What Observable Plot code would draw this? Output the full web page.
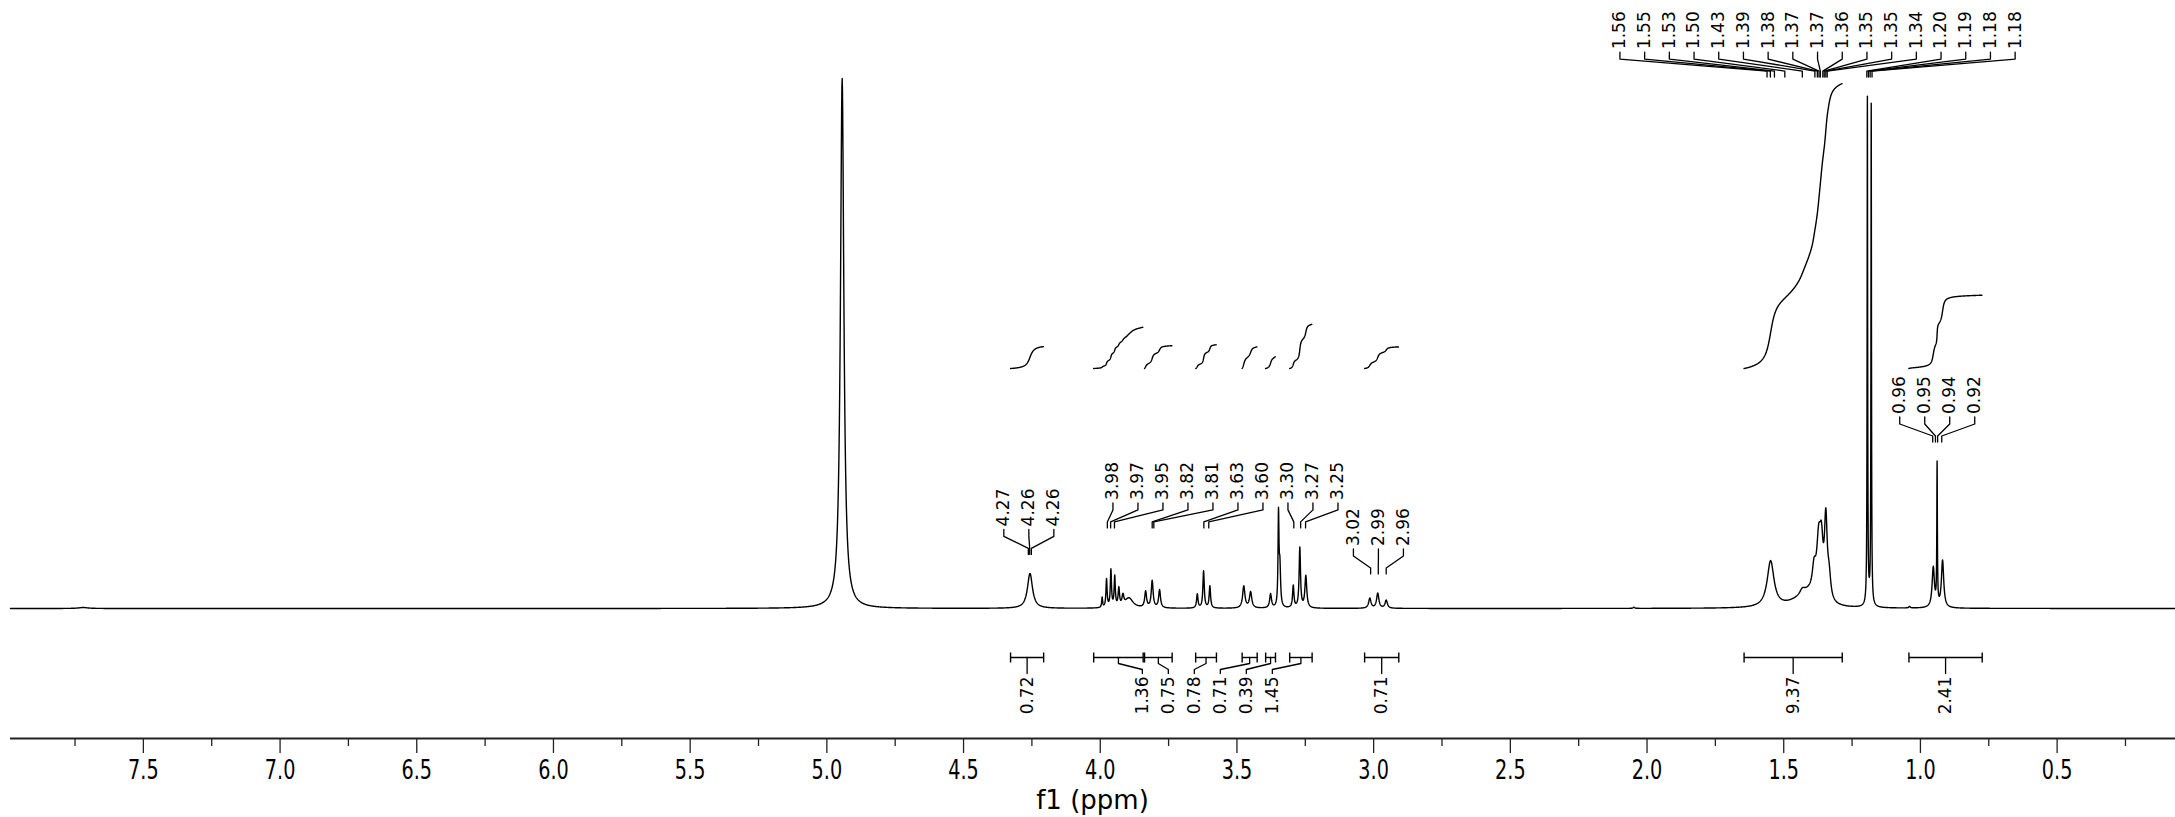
<!DOCTYPE html>
<html><head><meta charset="utf-8">
<script src="https://cdn.jsdelivr.net/npm/d3@7"></script>
<script src="https://cdn.jsdelivr.net/npm/@observablehq/plot@0.6"></script>
<style>
html,body{margin:0;padding:0;background:#fff;}
#chart{width:2175px;height:817px;overflow:hidden;}
</style></head><body><div id="chart"></div>
<script>
// ---------------- data ----------------
// spectrum lines: position (ppm), height (intensity units), half-width (ppm)
const peakPpm = [7.72, 4.944, 4.257, 3.993, 3.977, 3.961, 3.947, 3.932, 3.917, 3.895,
  3.834, 3.810, 3.783, 3.645, 3.622, 3.599, 3.475, 3.450, 3.377, 3.348,
  3.343, 3.294, 3.270, 3.248, 3.014, 2.985, 2.954, 2.048, 1.548, 1.45,
  1.432, 1.41, 1.389, 1.372, 1.362, 1.346, 1.334, 1.194, 1.180, 1.187,
  1.04, 0.953, 0.939, 0.919];
const peakHeight = [1, 530, 35, 10, 28, 37, 30, 18, 10, 10,
  16, 27, 18, 14, 37, 22, 22, 16, 14, 90,
  40, 22, 60, 32, 10, 15, 8, 1.2, 46, 5,
  6, 10, 25, 55, 45, 78, 22, 505, 498, 6,
  1.5, 40, 140, 47];
const peakWidth = [0.02, 0.0075, 0.011, 0.002, 0.0025, 0.0025, 0.0025, 0.003, 0.004, 0.018,
  0.004, 0.004, 0.004, 0.003, 0.003, 0.003, 0.005, 0.005, 0.004, 0.002,
  0.003, 0.003, 0.003, 0.004, 0.005, 0.005, 0.005, 0.003, 0.015, 0.05,
  0.012, 0.03, 0.008, 0.009, 0.007, 0.006, 0.007, 0.0011, 0.0011, 0.008,
  0.003, 0.005, 0.0012, 0.005];

// integrals
const integralFrom  = [4.328, 4.024, 3.838, 3.651, 3.481, 3.395, 3.307, 3.033, 1.645, 1.042];
const integralTo    = [4.207, 3.843, 3.737, 3.575, 3.426, 3.359, 3.225, 2.908, 1.286, 0.774];
const integralValue = [0.72, 1.36, 0.75, 0.78, 0.71, 0.39, 1.45, 0.71, 9.37, 2.41];
const integralText  = ["0.72", "1.36", "0.75", "0.78", "0.71", "0.39", "1.45", "0.71", "9.37", "2.41"];

// peak labels (groups)
const g1Text = ["4.27", "4.26", "4.26"];
const g1Ppm  = [4.263, 4.258, 4.252];
const g2Text = ["3.98", "3.97", "3.95", "3.82", "3.81", "3.63", "3.60", "3.30", "3.27", "3.25"];
const g2Ppm  = [3.974, 3.962, 3.948, 3.810, 3.804, 3.621, 3.603, 3.292, 3.267, 3.249];
const g3Text = ["3.02", "2.99", "2.96"];
const g3Ppm  = [3.011, 2.983, 2.954];
const g4Text = ["1.56", "1.55", "1.53", "1.50", "1.43", "1.39", "1.38", "1.37", "1.37", "1.36",
  "1.35", "1.35", "1.34", "1.20", "1.19", "1.18", "1.18"];
const g4Ppm  = [1.561, 1.549, 1.534, 1.496, 1.432, 1.386, 1.377, 1.371, 1.366, 1.357,
  1.352, 1.346, 1.341, 1.196, 1.190, 1.184, 1.177];
const g5Text = ["0.96", "0.95", "0.94", "0.92"];
const g5Ppm  = [0.955, 0.945, 0.937, 0.922];

// axis ticks
const tickValues = [7.5, 7.0, 6.5, 6.0, 5.5, 5.0, 4.5, 4.0, 3.5, 3.0, 2.5, 2.0, 1.5, 1.0, 0.5];
const tickLabels = ["7.5", "7.0", "6.5", "6.0", "5.5", "5.0", "4.5", "4.0", "3.5", "3.0", "2.5", "2.0", "1.5", "1.0", "0.5"];
const minorTickValues = [7.75, 7.25, 6.75, 6.25, 5.75, 5.25, 4.75, 4.25, 3.75, 3.25, 2.75, 2.25, 1.75, 1.25, 0.75, 0.25];
const axisTitle = "f1 (ppm)";

// ---------------- layout ----------------
const W = 2175, H = 817;
const xDomain = [7.986, 0.067], xRange = [10, 2175];
const yDomain = [0, 530], yRange = [608, 78];
const axisY = 738;
const xs = d3.scaleLinear().domain(xDomain).range(xRange);
const ys = d3.scaleLinear().domain(yDomain).range(yRange);
const LABEL_FONT = "DejaVu Sans";
const AXIS_FONT = "DejaVu Sans";
const AXIS_SQUEEZE = 0.74;   // horizontal condensation of the axis lettering

// ---------------- spectrum ----------------
function intensity(p) {
  let s = 0;
  for (let i = 0; i < peakPpm.length; i++) {
    const u = (p - peakPpm[i]) / peakWidth[i];
    s += peakHeight[i] / (1 + u * u);
  }
  return s;
}
const samplePpm = [];
const step = 0.001;
for (let p = xDomain[0]; p >= xDomain[1]; p -= step) samplePpm.push(p);
peakPpm.forEach((c, i) => {
  const g = peakWidth[i];
  [0, 0.25, 0.5, 1, 1.5, 2, 3, 5].forEach(k => { samplePpm.push(c + k * g); samplePpm.push(c - k * g); });
});
samplePpm.sort((a, b) => b - a);
const spectrum = samplePpm.map(p => ({x: p, y: intensity(p)}));

// ---------------- integral curves ----------------
const INT_BASE = 608 - 368;   // intensity units of the curve baseline
const INT_SCALE = 30.4;       // intensity units per integral unit
const integralCurves = [];
integralFrom.forEach((a, r) => {
  const b = integralTo[r];
  const pts = spectrum.filter(d => d.x <= a && d.x >= b);
  let cum = 0; const cs = [0];
  for (let i = 1; i < pts.length; i++) {
    cum += (pts[i - 1].x - pts[i].x) * (pts[i - 1].y + pts[i].y) / 2;
    cs.push(cum);
  }
  pts.forEach((d, i) => integralCurves.push({id: r, x: d.x, y: INT_BASE + (cs[i] / cum) * integralValue[r] * INT_SCALE}));
});

// ---------------- integral bars + labels ----------------
const BAR_Y = 657;
const barSegs = [];
const intLabels = [];
const intLeaders = [];
const intClusters = [{members: [1, 2, 3, 4, 5, 6], spacing: 26, shift: -10}];
const intLabelPx = integralFrom.map((a, r) => (xs(a) + xs(integralTo[r])) / 2);
const intCenterPx = intLabelPx.slice();
intClusters.forEach(c => {
  const mean = d3.mean(c.members, m => intCenterPx[m]) + c.shift;
  c.members.forEach((m, j) => { intLabelPx[m] = mean + (j - (c.members.length - 1) / 2) * c.spacing; });
});
integralFrom.forEach((a, r) => {
  const b = integralTo[r];
  const py = v => ys.invert(v);
  barSegs.push({x1: a, x2: b, y1: py(BAR_Y), y2: py(BAR_Y)});
  barSegs.push({x1: a, x2: a, y1: py(BAR_Y - 5), y2: py(BAR_Y + 5)});
  barSegs.push({x1: b, x2: b, y1: py(BAR_Y - 5), y2: py(BAR_Y + 5)});
  const cx = xs.invert(intCenterPx[r]), lx = xs.invert(intLabelPx[r]);
  [[cx, BAR_Y], [cx, BAR_Y + 6], [lx, BAR_Y + 12], [lx, BAR_Y + 16]].forEach(([x, y]) => intLeaders.push({id: r, x, y: py(y)}));
  intLabels.push({x: lx, y: py(BAR_Y + 19), text: integralText[r]});
});

// ---------------- peak labels ----------------
const groups = [
  {text: g1Text, ppm: g1Ppm, spacing: 25, shift: -1},
  {text: g2Text, ppm: g2Ppm, spacing: 25, shift: 19},
  {text: g3Text, ppm: g3Ppm, spacing: 25, shift: 0},
  {text: g4Text, ppm: g4Ppm, spacing: 24.7, shift: -2},
  {text: g5Text, ppm: g5Ppm, spacing: 25, shift: 0}
];
const peakLabels = [], peakLeaders = [];
groups.forEach((g, gi) => {
  const pxs = g.ppm.map(p => xs(p));
  const center = (d3.min(pxs) + d3.max(pxs)) / 2 + g.shift;
  let top = 0;
  g.ppm.forEach(p => { spectrum.forEach(d => { if (Math.abs(d.x - p) <= 0.004 && d.y > top) top = d.y; }); });
  const yb = ys(top) - 19;
  g.ppm.forEach((p, i) => {
    const lpx = center + (i - (g.ppm.length - 1) / 2) * g.spacing;
    const lx = xs.invert(lpx);
    const id = gi * 100 + i;
    [[p, yb], [p, yb - 6], [lx, yb - 18], [lx, yb - 25]].forEach(([x, y]) => peakLeaders.push({id, x, y: ys.invert(y)}));
    peakLabels.push({x: lx, y: ys.invert(yb - 28), text: g.text[i]});
  });
});

// ---------------- plot ----------------
const chart = Plot.plot({
  width: W, height: H,
  marginLeft: 10, marginRight: 0, marginTop: 0, marginBottom: H - axisY,
  x: {domain: xDomain, range: xRange},
  y: {domain: yDomain, range: yRange, axis: null},
  style: {background: "white", color: "black", fontFamily: LABEL_FONT, overflow: "visible"},
  marks: [
    Plot.ruleY([ys.invert(axisY)], {stroke: "#222", strokeWidth: 2}),
    Plot.axisX(tickValues, {anchor: "bottom", tickSize: 15, tickPadding: 7, stroke: "#222", strokeWidth: 1.3,
      tickFormat: d => tickLabels[tickValues.indexOf(d)], fontSize: 26, fontFamily: AXIS_FONT, label: null,
      ariaLabel: "x-axis major"}),
    Plot.axisX(minorTickValues, {anchor: "bottom", tickSize: 8, stroke: "#222", strokeWidth: 1.3, tickFormat: () => "", label: null}),
    Plot.text([axisTitle], {x: xs.invert(1092), y: ys.invert(800), text: d => d, fontSize: 26, fontFamily: AXIS_FONT, fill: "black", ariaLabel: "axis-title"}),
    Plot.line(spectrum, {x: "x", y: "y", stroke: "black", strokeWidth: 1.4}),
    Plot.line(integralCurves, {x: "x", y: "y", z: "id", stroke: "black", strokeWidth: 1.4}),
    Plot.link(barSegs, {x1: "x1", x2: "x2", y1: "y1", y2: "y2", stroke: "black", strokeWidth: 1.4}),
    Plot.line(intLeaders, {x: "x", y: "y", z: "id", stroke: "black", strokeWidth: 1.3}),
    Plot.text(intLabels, {x: "x", y: "y", text: "text", rotate: -90, textAnchor: "end", fontSize: 17, fontFamily: LABEL_FONT, fill: "black"}),
    Plot.line(peakLeaders, {x: "x", y: "y", z: "id", stroke: "black", strokeWidth: 1.3}),
    Plot.text(peakLabels, {x: "x", y: "y", text: "text", rotate: -90, textAnchor: "start", fontSize: 17, fontFamily: LABEL_FONT, fill: "black"})
  ]
});

// condense the axis lettering horizontally (keeps it as real text)
function squeeze(el, s) {
  const x = el.getAttribute("x");
  if (x != null) el.setAttribute("x", +x / s);
  const t = el.getAttribute("transform") || "";
  el.setAttribute("transform", (t + " scale(" + s + ",1)").trim());
}
chart.querySelectorAll('g[aria-label="x-axis major tick label"] text, g[aria-label="axis-title"] text').forEach(el => squeeze(el, AXIS_SQUEEZE));
document.getElementById("chart").appendChild(chart);
</script></body></html>
